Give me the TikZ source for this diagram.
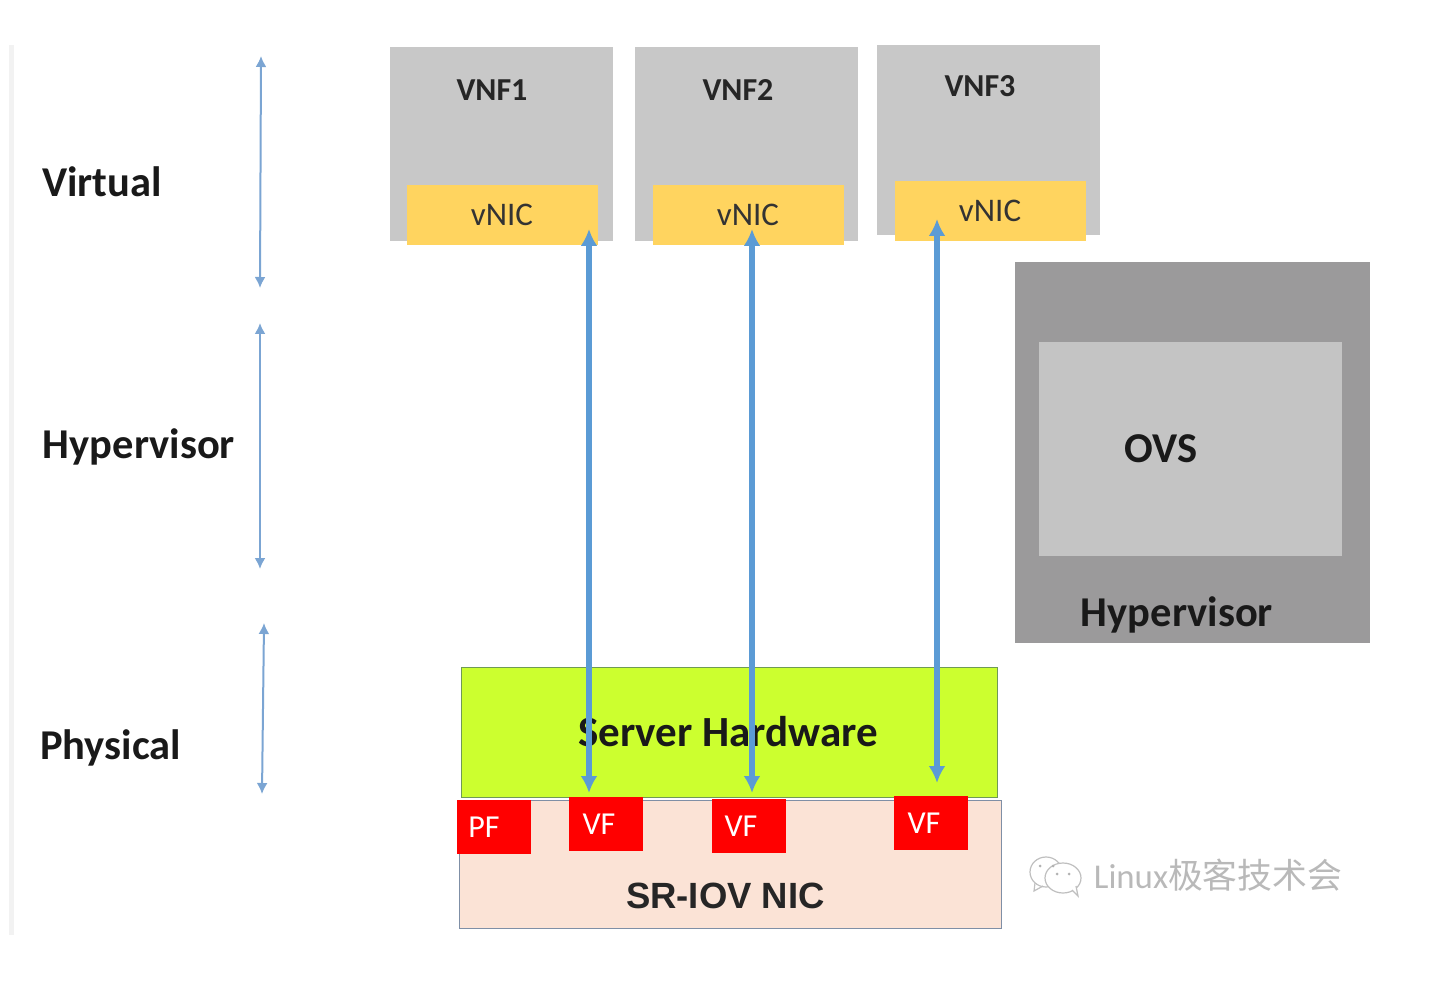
\documentclass[tikz,border=0pt]{standalone}
\usepackage{fontspec}
\setmainfont{Carlito}
\newfontfamily\cjkfont{Noto Sans CJK SC}
\newfontfamily\arialfont{Liberation Sans}
\usetikzlibrary{arrows.meta}
\definecolor{vnfgray}{HTML}{C8C8C8}
\definecolor{hvgray}{HTML}{9B9A9B}
\definecolor{ovsgray}{HTML}{C4C4C4}
\definecolor{vnicyellow}{HTML}{FFD45F}
\definecolor{hwgreen}{HTML}{CCFF2F}
\definecolor{hwborder}{HTML}{6F9A55}
\definecolor{nicpeach}{HTML}{FBE3D6}
\definecolor{nicborder}{HTML}{7F8FA6}
\definecolor{linkblue}{HTML}{5B9BD5}
\definecolor{layerblue}{HTML}{7BA5D3}
\tikzset{
  box/.style={rectangle, inner sep=0pt, anchor=north west},
  vnfbox/.style={box, fill=vnfgray, minimum width=223pt},
  vnicbox/.style={box, fill=vnicyellow, minimum width=191pt, minimum height=60pt},
  funcbox/.style={box, fill=red, minimum width=74pt, minimum height=54pt},
  layerlabel/.style={font=\bfseries\fontsize{42.5}{42.5}\selectfont, text=black!90},
  boxlabel/.style={font=\bfseries\fontsize{32}{32}\selectfont, text=black!85},
  funclabel/.style={font=\fontsize{32}{32}\selectfont, text=white},
  niclabel/.style={font=\fontsize{33}{33}\selectfont, text=black!80},
  hwlabel/.style={font=\bfseries\fontsize{42.5}{42.5}\selectfont, text=black!90},
  layerlink/.style={{Latex[length=11pt,width=11pt]}-{Latex[length=11pt,width=11pt]}, line width=2pt, draw=layerblue},
  vflink/.style={{Latex[length=17pt,width=17pt]}-{Latex[length=17pt,width=17pt]}, line width=5.5pt, draw=linkblue},
}
\begin{document}
\begin{tikzpicture}[x=1pt, y=-1pt]
  \useasboundingbox (0, 0) rectangle (1435, 981);
  \fill[gray!10] (9, 45) rectangle (14, 935);

  % guest boxes
  \node[vnfbox, minimum height=194pt] (vnfa) at (389.5, 47) {};
  \node[vnfbox, minimum height=194pt] (vnfb) at (635, 47) {};
  \node[vnfbox, minimum height=190pt] (vnfc) at (877, 45) {};
  \node[vnicbox] (vnica) at (406.5, 184.5) {};
  \node[vnicbox] (vnicb) at (652.5, 184.5) {};
  \node[vnicbox] (vnicc) at (894.5, 180.5) {};

  % hypervisor and switch
  \node[box, fill=hvgray, minimum width=355pt, minimum height=381pt] (hyper) at (1015, 262) {};
  \node[box, fill=ovsgray, minimum width=303pt, minimum height=214pt] (ovs) at (1039, 342) {};

  % hardware
  \node[box, fill=hwgreen, draw=hwborder, line width=1pt, minimum width=536pt, minimum height=130pt] (server) at (461, 667) {};
  \node[box, fill=nicpeach, draw=nicborder, line width=1pt, minimum width=542pt, minimum height=128pt] (nic) at (458.5, 799.5) {};
  \node[funcbox] (pf) at (456.5, 800) {};
  \node[funcbox] (vfa) at (569, 797) {};
  \node[funcbox] (vfb) at (712, 799) {};
  \node[funcbox] (vfc) at (894, 796) {};

  \node[layerlabel] (virtual) at (102, 182) {Virtual};
  \node[layerlabel] (hyperleft) at (139, 447) {Hypervisor};
  \node[layerlabel] (physical) at (110.5, 748) {Physical};

  \node[boxlabel] (vnfalabel) at (492, 90) {VNF1};
  \node[boxlabel] (vnfblabel) at (738, 90) {VNF2};
  \node[boxlabel] (vnfclabel) at (980, 86) {VNF3};
  \node[niclabel] (vnicalabel) at (502, 215) {vNIC};
  \node[niclabel] (vnicblabel) at (748, 215) {vNIC};
  \node[niclabel] (vnicclabel) at (990, 211) {vNIC};
  \node[hwlabel] (ovslabel) at (1161, 449) {OVS};
  \node[hwlabel] (hyperlabel) at (1177, 615) {Hypervisor};
  \node[hwlabel, font=\bfseries\fontsize{43}{43}\selectfont] (serverlabel) at (728, 732) {Server Hardware};
  \node[font=\arialfont\bfseries\fontsize{36.5}{36.5}\selectfont, text=black!85] (niclabel) at (725.5, 896) {SR-IOV NIC};
  \node[funclabel] (pflabel) at (484, 827) {PF};
  \node[funclabel] (vfalabel) at (599, 824) {VF};
  \node[funclabel] (vfblabel) at (741, 826) {VF};
  \node[funclabel] (vfclabel) at (924, 823) {VF};

  % free ends of the links
  \coordinate (virtop) at (261, 56);
  \coordinate (virbot) at (260, 288);
  \coordinate (hyptop) at (260, 323);
  \coordinate (hypbot) at (260, 569);
  \coordinate (phytop) at (264, 623);
  \coordinate (phybot) at (262, 794);
  \draw[layerlink] (virtop) -- (virbot);
  \draw[layerlink] (hyptop) -- (hypbot);
  \draw[layerlink] (phytop) -- (phybot);

  \coordinate (linkatop) at (589, 229);
  \coordinate (linkabot) at (589, 793);
  \coordinate (linkbtop) at (752, 229);
  \coordinate (linkbbot) at (752, 793);
  \coordinate (linkctop) at (937, 219);
  \coordinate (linkcbot) at (937, 783);
  \draw[vflink] (linkatop) -- (linkabot);
  \draw[vflink] (linkbtop) -- (linkbbot);
  \draw[vflink] (linkctop) -- (linkcbot);

  % account mark
  \begin{scope}[draw=gray!50, line width=1.2pt]
    \draw (1046, 872) ellipse (16pt and 15pt);
    \draw (1035, 883) -- (1034, 891) -- (1043, 886);
    \filldraw[fill=white] (1063, 878) ellipse (18pt and 15pt);
    \draw[fill=white] (1072, 890) -- (1078, 896) -- (1076, 886);
    \fill[gray!60] (1040, 866) circle (1.5pt) (1053, 866) circle (1.5pt) (1057, 874) circle (1.5pt) (1069, 874) circle (1.5pt);
  \end{scope}
  \node[text=gray!55, font=\fontsize{34.8}{34.8}\selectfont] (mark) at (1218, 875) {Linux{\cjkfont 极客技术会}};
\end{tikzpicture}
\end{document}
